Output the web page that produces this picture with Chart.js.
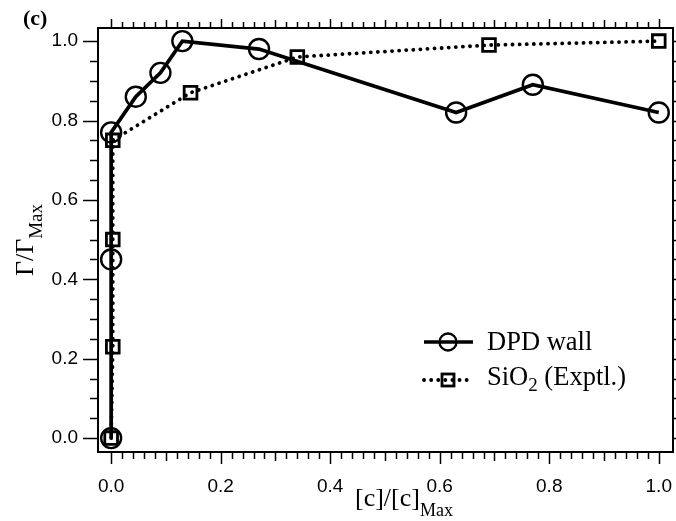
<!DOCTYPE html>
<html>
<head>
<meta charset="utf-8">
<script src="https://cdn.jsdelivr.net/npm/chart.js@4"></script>
<style>
  body { margin: 0; background: #fff; }
  #wrap { width: 676px; height: 521px; }
</style>
</head>
<body>
<div id="wrap"><canvas id="line-chart" width="676" height="521"></canvas></div>
<script>
// data
var dpdX = [0, 0, 0, 0.045, 0.09, 0.13, 0.27, 0.63, 0.77, 1.0];
var dpdY = [0, 0.45, 0.77, 0.86, 0.92, 1.0, 0.98, 0.82, 0.89, 0.82];
var sioX = [0, 0.003, 0.003, 0.003, 0.145, 0.34, 0.69, 1.0];
var sioY = [0, 0.23, 0.50, 0.75, 0.87, 0.96, 0.99, 1.0];
var xTickValues = [0, 0.2, 0.4, 0.6, 0.8, 1.0];
var yTickValues = [0, 0.2, 0.4, 0.6, 0.8, 1.0];
var seriesNames = ['DPD wall', 'SiO2 (Exptl.)'];

// gets canvas element
var ctx = document.getElementById('line-chart').getContext('2d');

// pairs x and y arrays into points
function toPoints(xs, ys) {
    var pts = [];
    for (var i = 0; i < xs.length; i++) {
        pts.push({x: xs[i], y: ys[i]});
    }
    return pts;
}

// writes text with a subscript part, returns end x
function drawSub(c, parts, x, y, big, small, drop) {
    for (var p of parts) {
        if (p.sub) {
            c.font = small + 'px "Liberation Serif"';
            c.fillText(p.t, x, y + drop);
        } else {
            c.font = big + 'px "Liberation Serif"';
            c.fillText(p.t, x, y);
        }
        x += c.measureText(p.t).width;
    }
    return x;
}
function measureSub(c, parts, big, small) {
    var w = 0;
    for (var p of parts) {
        c.font = (p.sub ? small : big) + 'px "Liberation Serif"';
        w += c.measureText(p.t).width;
    }
    return w;
}

// frame, minor ticks, titles and legend
var framePlugin = {
    id: 'frame',
    afterDraw: function(chart) {
        var c = chart.ctx;
        var a = chart.chartArea;
        var xs = chart.scales.x;
        var ys = chart.scales.y;
        c.save();
        c.strokeStyle = '#000';
        c.fillStyle = '#000';
        c.lineWidth = 2;
        c.strokeRect(a.left, a.top, a.right - a.left, a.bottom - a.top);

        // x ticks, bottom and top
        c.lineWidth = 1.5;
        for (var i = 0; i <= 50; i++) {
            var v = i * 0.02;
            var px = Math.round(xs.getPixelForValue(v)) + 0.5;
            var major = i % 10 == 0;
            var mid = i % 5 == 0;
            var lb = major ? 12 : (mid ? 9 : 7);
            var lt = major ? 9 : (mid ? 8 : 6);
            c.beginPath();
            c.moveTo(px, a.bottom);
            c.lineTo(px, a.bottom + lb);
            c.moveTo(px, a.top);
            c.lineTo(px, a.top - lt);
            c.stroke();
        }
        // y ticks, left and right
        for (var j = 0; j <= 20; j++) {
            var yv = j * 0.05;
            var py = Math.round(ys.getPixelForValue(yv)) + 0.5;
            var ymaj = j % 4 == 0;
            var ll = ymaj ? 15 : 8;
            c.beginPath();
            c.moveTo(a.left, py);
            c.lineTo(a.left - ll, py);
            c.moveTo(a.right, py);
            c.lineTo(a.right + ll, py);
            c.stroke();
        }

        // panel letter
        c.font = 'bold 22px "Liberation Serif"';
        c.textBaseline = 'alphabetic';
        c.textAlign = 'left';
        c.fillText('(c)', 23, 25);

        // x title
        var xt = [{t: '[c]/[c]'}, {t: 'Max', sub: true}];
        drawSub(c, xt, 355, 506, 26, 18, 10);

        // y title
        var yt = [{t: 'Γ/Γ'}, {t: 'Max', sub: true}];
        c.save();
        c.translate(33, 240);
        c.rotate(-Math.PI / 2);
        var w = measureSub(c, yt, 26, 19);
        drawSub(c, yt, -w / 2, 0, 26, 19, 9);
        c.restore();

        // legend built from the dataset styles
        var rows = [342, 380];
        for (var k = 0; k < chart.data.datasets.length; k++) {
            var ds = chart.data.datasets[k];
            var ly = rows[k];
            c.save();
            c.strokeStyle = ds.borderColor;
            c.lineWidth = ds.borderWidth;
            c.lineCap = ds.borderCapStyle || 'butt';
            c.setLineDash(ds.borderDash || []);
            c.beginPath();
            c.moveTo(424, ly);
            c.lineTo(473, ly);
            c.stroke();
            c.setLineDash([]);
            c.lineWidth = ds.pointBorderWidth;
            if (ds.pointStyle == 'circle') {
                c.beginPath();
                c.arc(448, ly, 8.5, 0, Math.PI * 2);
                c.stroke();
            } else {
                c.strokeRect(442, ly - 6, 12, 12);
            }
            c.restore();
        }
        c.textBaseline = 'middle';
        c.font = '26.5px "Liberation Serif"';
        c.fillText(seriesNames[0], 487, 343);
        drawSub(c, [{t: 'SiO'}, {t: '2', sub: true}, {t: ' (Exptl.)'}], 487, 378, 26.5, 19, 8);
        c.restore();
    }
};

// creates chart
var myChart = new Chart(ctx, {
    type: 'scatter',
    data: {
        datasets: [{
            label: seriesNames[0],
            data: toPoints(dpdX, dpdY),
            showLine: true,
            borderColor: '#000',
            backgroundColor: 'rgba(0,0,0,0)',
            borderWidth: 3.7,
            pointStyle: 'circle',
            pointRadius: 10,
            pointBorderWidth: 2.4,
            pointBackgroundColor: 'rgba(0,0,0,0)',
            pointBorderColor: '#000',
            order: 1
        }, {
            label: seriesNames[1],
            data: toPoints(sioX, sioY),
            showLine: true,
            borderColor: '#000',
            backgroundColor: 'rgba(0,0,0,0)',
            borderWidth: 3.8,
            borderDash: [0.1, 7],
            borderCapStyle: 'round',
            pointStyle: 'rect',
            pointRadius: 9,
            pointBorderWidth: 2.8,
            pointBackgroundColor: 'rgba(0,0,0,0)',
            pointBorderColor: '#000',
            order: 2
        }]
    },
    options: {
        responsive: false,
        animation: false,
        devicePixelRatio: 1,
        clip: false,
        layout: { autoPadding: false, padding: { top: 28, right: 3, left: 0, bottom: 0 } },
        plugins: {
            legend: { display: false },
            tooltip: { enabled: false }
        },
        scales: {
            x: {
                type: 'linear',
                min: -0.024,
                max: 1.026,
                grid: { display: false, drawTicks: false },
                border: { display: false },
                afterBuildTicks: function(scale) {
                    scale.ticks = xTickValues.map(function(v) { return {value: v}; });
                },
                afterFit: function(scale) {
                    scale.height = 69;
                    scale.paddingLeft = 0;
                    scale.paddingRight = 0;
                },
                ticks: {
                    padding: 23,
                    color: '#000',
                    font: { family: '"Liberation Sans"', size: 19 },
                    callback: function(v) { return v.toFixed(1); }
                }
            },
            y: {
                type: 'linear',
                min: -0.035,
                max: 1.033,
                grid: { display: false, drawTicks: false },
                border: { display: false },
                afterBuildTicks: function(scale) {
                    scale.ticks = yTickValues.map(function(v) { return {value: v}; });
                },
                afterFit: function(scale) {
                    scale.width = 98;
                    scale.paddingTop = 0;
                    scale.paddingBottom = 0;
                },
                ticks: {
                    padding: 20,
                    color: '#000',
                    font: { family: '"Liberation Sans"', size: 19 },
                    callback: function(v) { return v.toFixed(1); }
                }
            }
        }
    },
    plugins: [framePlugin]
});
</script>
</body>
</html>
